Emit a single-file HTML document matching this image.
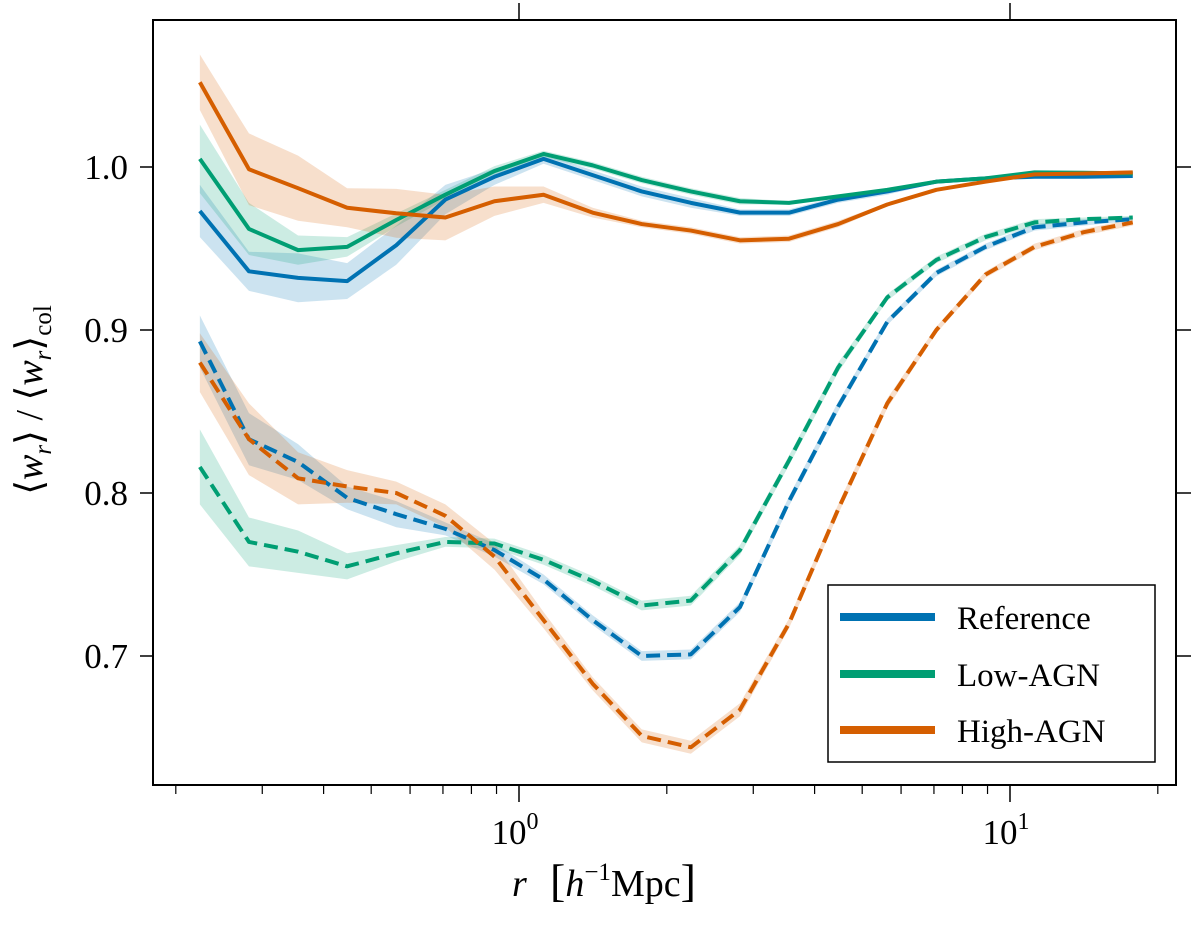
<!DOCTYPE html>
<html><head><meta charset="utf-8"><style>
body{margin:0;background:#fff}
svg{display:block}
text{font-family:"Liberation Serif","DejaVu Serif",serif;fill:#000}
</style></head><body>
<svg id="chart" width="1200" height="926" xmlns="http://www.w3.org/2000/svg">
<g id="bands"></g>
<g id="lines"></g>
<rect x="153" y="20" width="1023" height="765" fill="none" stroke="#000" stroke-width="2"/>
<g id="axes"></g>
<text x="512" y="896" font-size="38" font-style="italic">r</text>
<text x="550" y="896" font-size="38"><tspan font-size="46">[</tspan><tspan font-style="italic">h</tspan><tspan font-size="25" dy="-16">−1</tspan><tspan dy="16">Mpc</tspan><tspan font-size="46">]</tspan></text>
<text transform="translate(42,400) rotate(-90)" text-anchor="middle" font-size="38">⟨<tspan font-style="italic">w</tspan><tspan font-size="25" font-style="italic" dy="9">r</tspan><tspan dy="-9">⟩ / ⟨</tspan><tspan font-style="italic">w</tspan><tspan font-size="25" font-style="italic" dy="9">r</tspan><tspan dy="-9">⟩</tspan><tspan font-size="25" dy="9">col</tspan></text>
<g>
<rect x="828" y="585" width="327" height="177" fill="#fff" stroke="#000" stroke-width="1.5"/>
<line x1="840" y1="617" x2="935" y2="617" stroke="#0072B2" stroke-width="8"/>
<text x="957" y="629" font-size="33">Reference</text>
<line x1="840" y1="674" x2="935" y2="674" stroke="#009E73" stroke-width="8"/>
<text x="957" y="686" font-size="33">Low-AGN</text>
<line x1="840" y1="730" x2="935" y2="730" stroke="#D55E00" stroke-width="8"/>
<text x="957" y="742" font-size="33">High-AGN</text>
</g>
</svg>
<script>
const logR = [-0.65,-0.55,-0.45,-0.35,-0.25,-0.15,-0.05,0.05,0.15,0.25,0.35,0.45,0.55,0.65,0.75,0.85,0.95,1.05,1.15,1.25];
const refSolid  = [0.973,0.936,0.932,0.930,0.952,0.980,0.994,1.005,0.995,0.985,0.978,0.972,0.972,0.980,0.985,0.991,0.993,0.994,0.994,0.9945];
const refSolidErr = [0.016,0.012,0.015,0.011,0.012,0.009,0.005,0.003,0.003,0.003,0.003,0.002,0.002,0.002,0.002,0.001,0.001,0.001,0.001,0.001];
const lowSolid  = [1.005,0.962,0.949,0.951,0.9675,0.983,0.9975,1.008,1.001,0.992,0.985,0.979,0.978,0.982,0.986,0.991,0.993,0.9967,0.9965,0.996];
const lowSolidErr = [0.021,0.016,0.009,0.006,0.004,0.003,0.003,0.002,0.002,0.002,0.002,0.002,0.001,0.001,0.001,0.001,0.001,0.001,0.001,0.001];
const highSolid = [1.052,0.9986,0.987,0.975,0.9716,0.969,0.979,0.983,0.972,0.965,0.961,0.955,0.956,0.965,0.977,0.986,0.991,0.9955,0.996,0.9967];
const highSolidErr = [0.017,0.022,0.020,0.012,0.015,0.014,0.009,0.005,0.003,0.002,0.002,0.002,0.002,0.002,0.001,0.001,0.001,0.001,0.001,0.001];
const refDash  = [0.893,0.833,0.819,0.797,0.787,0.778,0.765,0.747,0.722,0.700,0.701,0.730,0.795,0.853,0.905,0.935,0.951,0.963,0.966,0.968];
const refDashErr = [0.016,0.016,0.011,0.007,0.008,0.004,0.004,0.003,0.003,0.003,0.003,0.003,0.003,0.003,0.002,0.002,0.002,0.002,0.002,0.001];
const lowDash  = [0.816,0.770,0.764,0.755,0.763,0.770,0.769,0.759,0.746,0.731,0.734,0.765,0.820,0.877,0.920,0.943,0.957,0.966,0.968,0.969];
const lowDashErr = [0.023,0.015,0.013,0.008,0.005,0.003,0.003,0.003,0.003,0.003,0.003,0.003,0.003,0.003,0.002,0.002,0.002,0.002,0.001,0.001];
const highDash = [0.880,0.833,0.809,0.804,0.800,0.786,0.761,0.722,0.683,0.651,0.644,0.667,0.720,0.790,0.855,0.900,0.934,0.951,0.960,0.966];
const highDashErr = [0.018,0.022,0.016,0.010,0.007,0.007,0.008,0.005,0.004,0.004,0.004,0.004,0.003,0.003,0.003,0.002,0.002,0.002,0.002,0.002];
const yTicks = [0.7,0.8,0.9,1.0];
const yTickLabels = ["0.7","0.8","0.9","1.0"];

const NS="http://www.w3.org/2000/svg";
const X0=519, DEC=491;
function xs(l){return X0+l*DEC;}
function ys(v){return 167+(1.0-v)*1630;}
const bands=document.getElementById('bands'), lines=document.getElementById('lines'), axes=document.getElementById('axes');
const series=[
 ['reference-solid',refSolid,refSolidErr,'#0072B2',false],
 ['low-agn-solid',lowSolid,lowSolidErr,'#009E73',false],
 ['high-agn-solid',highSolid,highSolidErr,'#D55E00',false],
 ['reference-dashed',refDash,refDashErr,'#0072B2',true],
 ['low-agn-dashed',lowDash,lowDashErr,'#009E73',true],
 ['high-agn-dashed',highDash,highDashErr,'#D55E00',true]];
series.forEach(s=>{
  const [name,v,e,c,dash]=s;
  let up=v.map((y,i)=>xs(logR[i])+','+ys(y+e[i]));
  let lo=v.map((y,i)=>xs(logR[i])+','+ys(y-e[i])).reverse();
  const p=document.createElementNS(NS,'polygon');
  p.setAttribute('points',up.concat(lo).join(' '));
  p.setAttribute('fill',c);p.setAttribute('fill-opacity','0.2');
  
  
  bands.appendChild(p);
  const l=document.createElementNS(NS,'polyline');
  l.setAttribute('points',v.map((y,i)=>xs(logR[i])+','+ys(y)).join(' '));
  l.setAttribute('fill','none');l.setAttribute('stroke',c);l.setAttribute('stroke-width','4');
  l.setAttribute('stroke-linejoin','round');
  if(dash)l.setAttribute('stroke-dasharray','14 7');
  
  
  lines.appendChild(l);
});
function ln(x1,y1,x2,y2,w,name){
  const l=document.createElementNS(NS,'line');
  l.setAttribute('x1',x1);l.setAttribute('y1',y1);l.setAttribute('x2',x2);l.setAttribute('y2',y2);
  l.setAttribute('stroke','#000');l.setAttribute('stroke-width',w);
  
  
  axes.appendChild(l);
}
function tx(x,y,str,anchor,name){
  const t=document.createElementNS(NS,'text');
  t.setAttribute('x',x);t.setAttribute('y',y);t.setAttribute('font-size','35');t.setAttribute('text-anchor',anchor);
  t.textContent=str;
  
  
  axes.appendChild(t);return t;
}
yTicks.forEach((v,i)=>{
  const y=ys(v);
  ln(140,y,153,y,1.5,'y-tick');
  ln(1176,y,1191,y,1.5,'y-tick-right');
  tx(128,y+12,yTickLabels[i],'end','y-tick-label');
});
for(let d=-1;d<=1;d++){for(let k=1;k<10;k++){
  const l=d+Math.log10(k); const x=xs(l);
  if(x<153||x>1176)continue;
  if(k===1){ln(x,785,x,802,1.5,'x-major-tick');ln(x,3,x,20,1.5,'x-major-tick-top');}
  else ln(x,785,x,794,1.2,'x-minor-tick');
}}
[[0,'0'],[1,'1']].forEach(a=>{
  const t=tx(xs(a[0])-4,844,'10','middle','x-tick-label');
  const sp=document.createElementNS(NS,'tspan');sp.setAttribute('font-size','24');sp.setAttribute('dy','-15');sp.textContent=a[1];t.appendChild(sp);
});
</script>
</body></html>
